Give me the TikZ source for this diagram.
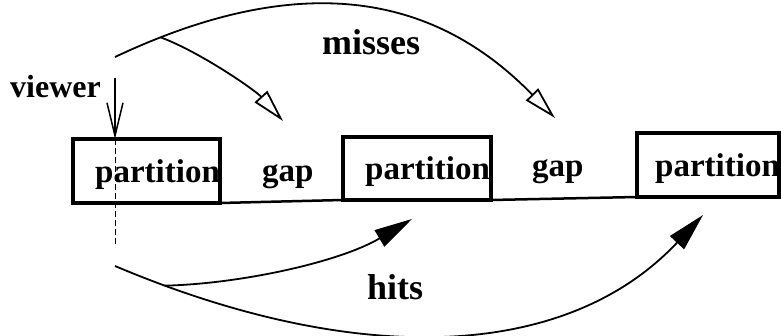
\documentclass[tikz,border=0pt]{standalone}
\usepackage{fontspec}
\setmainfont{Liberation Serif}
\usetikzlibrary{arrows.meta}
\begin{document}
\begin{tikzpicture}[x=1pt,y=-1pt,
  lbl/.style={font=\fontsize{33}{33}\selectfont\bfseries, inner sep=0pt, anchor=base west},
  biglbl/.style={font=\fontsize{36}{36}\selectfont\bfseries, inner sep=0pt, anchor=base west},
  pbox/.style={draw, line width=3.5pt, inner sep=0pt, outer sep=0pt},
  curve/.style={line width=1.8pt},
  openhead/.style={-{Triangle[open,length=33pt,width=17pt,line width=1.8pt]}},
  fillhead/.style={-{Triangle[length=38pt,width=19pt]}}
]
\useasboundingbox[fill=white] (0,0) rectangle (781,336);
% texts
\node[lbl] (t1) at (95,183) {partition};
\node[lbl] (g1) at (262,182) {gap};
\node[lbl] (t2) at (365,180) {partition};
\node[lbl] (g2) at (532,177) {gap};
\node[lbl] (t3) at (655,177) {partition};
\node[lbl, font=\fontsize{32}{32}\selectfont\bfseries] (vw) at (10,98) {viewer};
\node[biglbl] (ms) at (322,55) {misses};
\node[biglbl] (ht) at (367,300) {hits};
% boxes
\node[pbox, minimum width=147pt, minimum height=64pt] (b1) at (146.5,171) {};
\node[pbox, minimum width=148pt, minimum height=63pt] (b2) at (417,168.5) {};
\node[pbox, minimum width=142pt, minimum height=64pt] (b3) at (708,165) {};
\draw[line width=2.5pt] (b1.south east) -- (b2.south west) (b2.south east) -- (b3.south west);
% viewer
\coordinate (vtop) at (115,78);
\coordinate (vbot) at (115,247);
\draw[line width=1.5pt, -{Straight Barb[length=33pt,width=16pt]}] (vtop) -- (vtop |- b1.north);
\draw[line width=1pt, dash pattern=on 6pt off 3pt] (vtop |- b1.north) -- (vbot);
% misses
\coordinate (mS) at (115,57);
\coordinate (mE) at (555,118);
\coordinate (mE2) at (283,121);
\draw[curve, openhead] (mS) .. controls (310,-35) and (440,0) .. (mE) coordinate[pos=0.08] (mb);
\draw[curve, openhead] (mb) .. controls (200,52) and (255,90) .. (mE2);
% hits
\coordinate (hS) at (115,266);
\coordinate (hE) at (703,215);
\coordinate (hE2) at (412,219);
\draw[curve, fillhead] (hS) .. controls (354,367) and (565,362) .. (hE) coordinate[pos=0.07] (hb);
\draw[curve, fillhead] (hb) .. controls (240,284) and (340,262) .. (hE2);
\end{tikzpicture}
\end{document}
